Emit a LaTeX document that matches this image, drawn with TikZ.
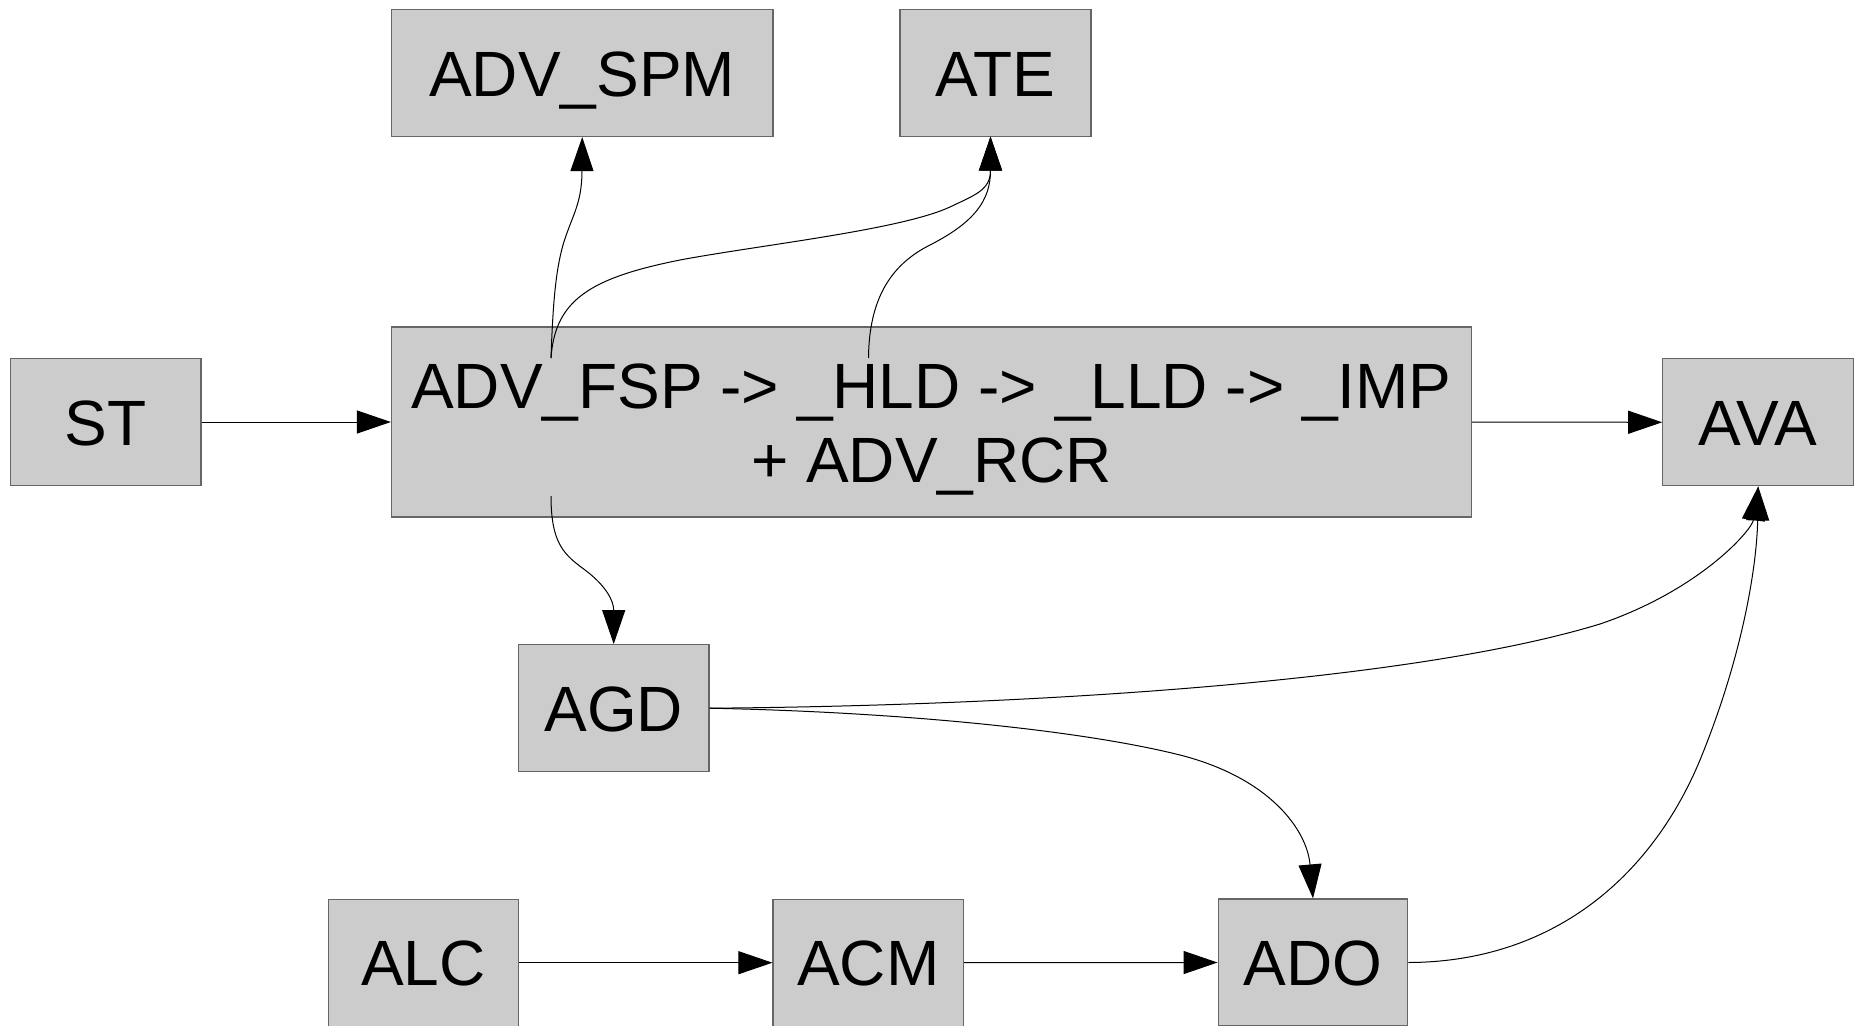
\documentclass[tikz,border=0pt]{standalone}
\usepackage{fontspec}
\setmainfont{Liberation Sans}
\usetikzlibrary{arrows.meta}
\definecolor{boxfill}{RGB}{204,204,204}
\definecolor{boxline}{RGB}{102,102,102}
\begin{document}
\begin{tikzpicture}[x=1pt,y=-1pt,
  box/.style={draw=boxline,fill=boxfill,line width=1.2pt,inner sep=0pt,
    minimum height=127pt,font=\fontsize{64}{74}\selectfont,text=black,
    text height=46pt,text depth=0pt},
  edge/.style={draw=black,line width=1pt,-{Triangle[length=34pt,width=23pt]}}]
\useasboundingbox (0,0) rectangle (1857,1025);
\node[box,minimum width=381.5pt] (spm) at (582.2,73) {ADV\_SPM};
\node[box,minimum width=191pt] (ate) at (995.5,73) {ATE};
\node[box,minimum width=190.5pt] (st) at (105.8,422) {ST};
\node[box,minimum width=1080pt,minimum height=190pt,align=center,text height=120pt,text depth=0pt] (main) at (931.5,422)
  {ADV\_FSP -> \_HLD -> \_LLD -> \_IMP\\+ ADV\_RCR};
\node[box,minimum width=190.8pt] (ava) at (1758.2,422.3) {AVA};
\node[box,minimum width=190.5pt] (agd) at (613.7,708.2) {AGD};
\node[box,minimum width=190pt] (alc) at (423.5,962.7) {ALC};
\node[box,minimum width=190.6pt] (acm) at (868.3,962.7) {ACM};
\node[box,minimum width=189.7pt] (ado) at (1313,962.5) {ADO};
\coordinate (fspA) at (551,358);
\coordinate (fspB) at (868.5,358);
\coordinate (fspC) at (551,496);
\coordinate (ateIn) at (990.5,136.5);
% straight edges
\draw[edge] (st.east) -- (main.west);
\draw[edge] (main.east) -- (ava.west);
\draw[edge] (alc.east) -- (acm.west);
\draw[edge] (acm.east) -- (ado.west);
% curved edges
\draw[edge] (fspA) .. controls (553,300) and (556,270) .. (563,245)
  .. controls (572,215) and (581.8,205) .. (spm.south);
\draw[edge] (fspA) .. controls (555,300) and (590,278) .. (680,260)
  .. controls (760,245) and (900,230) .. (950,207)
  .. controls (975,195) and (990.5,190) .. (ateIn);
\draw[edge] (fspB) .. controls (869,300) and (890,265) .. (930,245)
  .. controls (975,222) and (990.5,200) .. (ateIn);
\draw[edge] (fspC) .. controls (551,545) and (565,555) .. (585,570)
  .. controls (605,585) and (613.7,600) .. (agd.north);
\draw[edge] (agd.east) .. controls (1000,706) and (1400,685) .. (1600,624)
  .. controls (1700,590) and (1752,530) .. (ava.south);
\draw[edge] (agd.east) .. controls (900,712) and (1080,730) .. (1180,755)
  .. controls (1270,778) and (1307,830) .. (ado.north);
\draw[edge] (ado.east) .. controls (1550,962) and (1650,880) .. (1700,760)
  .. controls (1745,650) and (1757,560) .. (ava.south);
\end{tikzpicture}
\end{document}
